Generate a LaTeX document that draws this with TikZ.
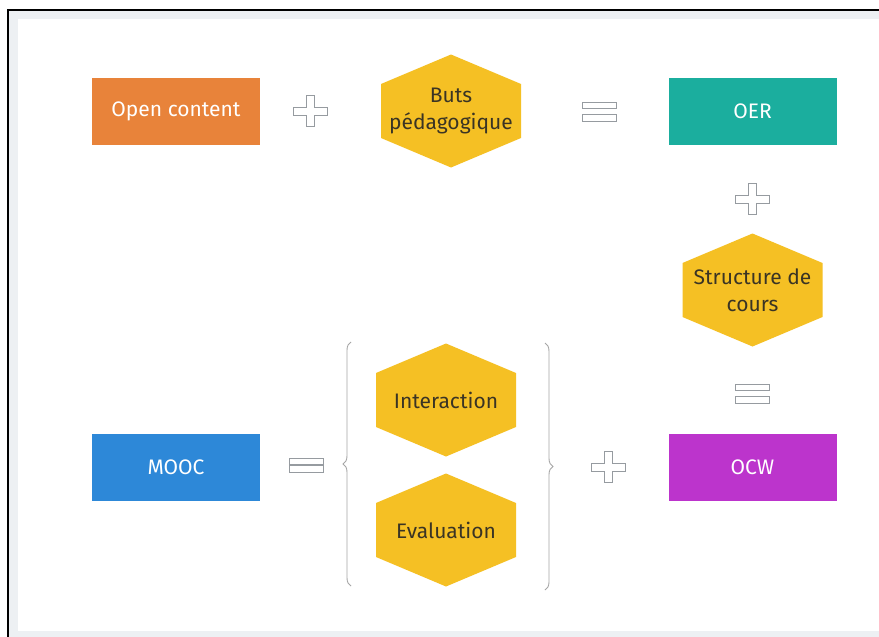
\documentclass[tikz,border=0pt]{standalone}
\usepackage{fontspec}
\setmainfont{Fira Sans}
\usetikzlibrary{decorations.pathreplacing}

\definecolor{ocorange}{RGB}{232,131,58}
\definecolor{oerteal}{RGB}{27,174,158}
\definecolor{moocblue}{RGB}{45,136,216}
\definecolor{ocwpurple}{RGB}{188,52,204}
\definecolor{hexyellow}{RGB}{245,192,36}
\definecolor{hexink}{RGB}{58,52,36}
\definecolor{signgrey}{RGB}{150,155,160}
\definecolor{framegrey}{RGB}{237,240,243}

\tikzset{
	box/.style={minimum width=168pt, minimum height=67pt, inner sep=0pt, text=white, font=\fontsize{21}{24}\selectfont},
	hexa/.style={fill=hexyellow},
	hexlabel/.style={align=center, text=hexink, inner sep=0pt, font=\fontsize{21}{27}\selectfont},
	sign/.style={draw=signgrey, fill=white, line width=0.9pt},
	bracket/.style={draw=gray!70, line width=0.9pt, decorate, decoration={brace, amplitude=8pt}},
}

\newcommand{\hexnode}[3]{%
	\fill[hexa, shift={(#2)}] (0,-56.5) -- (70,-27) -- (70,27) -- (0,56.5) -- (-70,27) -- (-70,-27) -- cycle;
	\node[hexlabel] (#1) at (#2) {#3};
}
\newcommand{\plusat}[1]{%
	\draw[sign, shift={(#1)}] (-4,-15.5) -- (4,-15.5) -- (4,-4) -- (17,-4) -- (17,4) -- (4,4) -- (4,15.5) -- (-4,15.5) -- (-4,4) -- (-17,4) -- (-17,-4) -- (-4,-4) -- cycle;
}
\newcommand{\equalat}[2][3]{%
	\draw[sign, shift={(#2)}] (-17,-#1) rectangle (17,{-#1-6.5});
	\draw[sign, shift={(#2)}] (-17,#1) rectangle (17,{#1+6.5});
}

\begin{document}
\begin{tikzpicture}[x=1pt,y=-1pt]

	\useasboundingbox (0,0) rectangle (879,637);
	\fill[white] (0,0) rectangle (879,637);
	\fill[framegrey] (9,11) rectangle (879,637);
	\fill[white] (18,19) rectangle (879,631);
	\draw[line width=2pt] (8,637) -- (8,10) -- (879,10);

	% top row
	\node[box, fill=ocorange] (opencontent) at (176,111.5) {Open content};
	\plusat{310,111}
	\hexnode{buts}{451,111}{Buts\\pédagogique}
	\equalat{599,111.5}
	\node[box, fill=oerteal] (oer) at (752.5,111.5) {OER};

	% right column
	\plusat{752.5,199}
	\hexnode{structure}{752.5,290}{Structure de\\cours}
	\equalat{752.5,393.5}
	\node[box, fill=ocwpurple] (ocw) at (752.5,467) {OCW};

	% bottom row
	\node[box, fill=moocblue] (mooc) at (176,467) {MOOC};
	\equalat[0.5]{306,465}
	\hexnode{interaction}{446,400}{Interaction}
	\hexnode{evaluation}{446,530}{Evaluation}
	\draw[bracket] (351,586) -- (351,342);
	\draw[bracket] (545,343) -- (545,590);
	\plusat{608,467}

\end{tikzpicture}
\end{document}
